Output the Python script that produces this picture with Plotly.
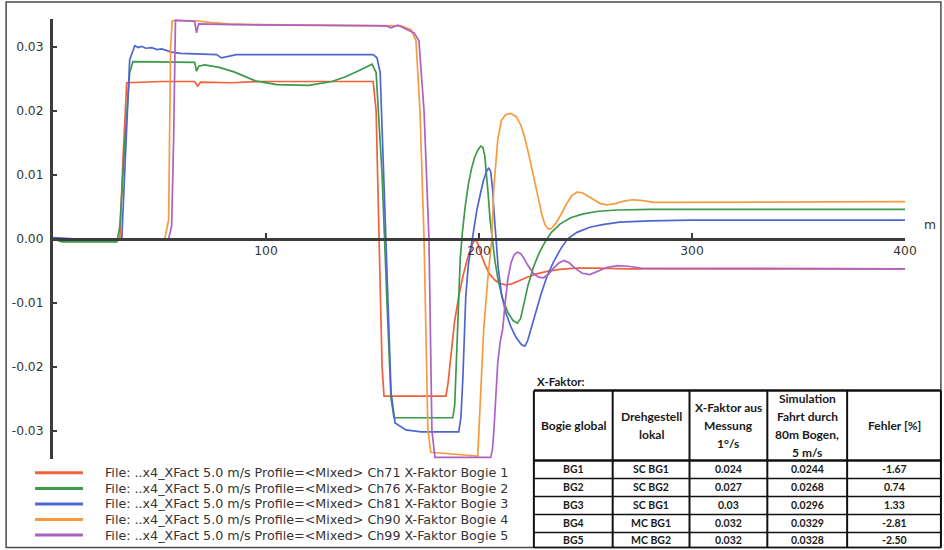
import plotly.graph_objects as go

# ---------------------------------------------------------------------------
# Series: distance along track [m] and X-Faktor value per bogie
# ---------------------------------------------------------------------------
bogie1_x = [0, 31.4, 32.8, 34.6, 51, 66.5, 67.9, 69.3, 83.8, 97.8, 150.3, 151.7, 153.1, 154.5,
            155.4, 184.5, 185.5, 186.8, 188.5, 190.5, 192.5, 194.5, 196.3, 197.8, 198.6, 199.5,
            201.0, 203.0, 205.0, 207.5, 210.0, 212.5, 215.0, 218.0, 222.0, 227.0, 232.0, 238.0,
            245.0, 255.0, 270.0, 400]
bogie1_y = [0, 0, 0.012, 0.0244, 0.0246, 0.0246, 0.0239, 0.0245, 0.0244, 0.0246, 0.0246, 0.020,
            0.0, -0.020, -0.0246, -0.0246, -0.0225, -0.018, -0.013, -0.0090, -0.0058, -0.0032,
            -0.0013, -0.0003, -0.0002, -0.0008, -0.0025, -0.0042, -0.0055, -0.0065, -0.0070,
            -0.0072, -0.0071, -0.0067, -0.0061, -0.0055, -0.0051, -0.0048, -0.0046, -0.0046,
            -0.0047, -0.0047]

bogie2_x = [0, 4.2, 30, 31.4, 33.7, 36, 37.5, 66.5, 67.4, 68.4, 71.2, 78, 85, 95, 105, 112, 120,
            131, 137, 143, 148, 149.8, 151.7, 154.5, 156.8, 158.7, 160.1, 187.7, 188.6, 189.5,
            190.3, 191.2, 192.2, 193.5, 195.0, 196.5, 198.0, 199.5, 200.8, 201.8, 202.7, 203.5,
            204.3, 205.2, 206.3, 207.5, 209.0, 211.0, 213.5, 216.0, 218.0, 219.5, 221.0, 223.0,
            225.5, 228.0, 231.0, 234.0, 238.0, 243.0, 249.0, 256.0, 265.0, 280.0, 400]
bogie2_y = [0, -0.0005, -0.0005, 0.002, 0.015, 0.026, 0.0277, 0.0276, 0.0262, 0.0270, 0.0272,
            0.0268, 0.0261, 0.0247, 0.0241, 0.0240, 0.0240, 0.0246, 0.0253, 0.0262, 0.0270,
            0.0273, 0.026, 0.010, -0.010, -0.025, -0.0280, -0.0280, -0.026, -0.018, -0.009,
            -0.003, 0.001, 0.005, 0.0085, 0.0110, 0.0128, 0.0139, 0.0145, 0.0143, 0.0130, 0.0105,
            0.0070, 0.0030, 0.0, -0.0035, -0.0065, -0.0093, -0.0115, -0.0128, -0.0132, -0.0125,
            -0.0103, -0.0073, -0.0045, -0.0024, -0.0005, 0.0010, 0.0023, 0.0033, 0.0039, 0.0043,
            0.0045, 0.0046, 0.0046]

bogie3_x = [0, 10, 32.3, 34.2, 36, 38.4, 40, 41.7, 43.5, 46.3, 49, 51, 55.7, 60, 69.8, 76.8,
            79.1, 81.9, 86.1, 150.3, 152.1, 153.6, 155.4, 157.3, 158.7, 160.6, 165.7, 172.8,
            190.5, 191.5, 192.4, 193.2, 193.8, 195.0, 196.2, 197.5, 199.0, 200.5, 202.0, 203.5,
            204.6, 205.5, 206.3, 207.1, 208.0, 209.0, 210.5, 212.5, 215.0, 217.5, 220.0, 221.5,
            222.8, 224.3, 226.5, 229.0, 232.0, 235.0, 238.5, 241.6, 246.0, 252.0, 258.0, 266.0,
            280.0, 300.0, 400]
bogie3_y = [0.0002, 0.0, 0.0, 0.015, 0.028, 0.0302, 0.0299, 0.0301, 0.0298, 0.0299, 0.0296,
            0.0297, 0.0292, 0.0290, 0.0289, 0.0288, 0.0283, 0.0285, 0.0288, 0.0288, 0.0283,
            0.026, 0.010, -0.010, -0.024, -0.0288, -0.0299, -0.0302, -0.0302, -0.028, -0.022,
            -0.014, -0.009, -0.004, -0.0012, 0.0018, 0.0045, 0.0068, 0.0090, 0.0105, 0.0111,
            0.0105, 0.0080, 0.0040, 0.0, -0.0045, -0.0085, -0.0115, -0.0138, -0.0155, -0.0166,
            -0.0168, -0.0160, -0.0142, -0.0115, -0.0088, -0.0058, -0.0036, -0.0015, 0.0, 0.0010,
            0.0018, 0.0022, 0.0026, 0.0028, 0.0029, 0.0029]

bogie4_x = [0, 52.5, 54.3, 55.2, 56.0, 67.4, 74.4, 82.4, 97.8, 156.4, 163.4, 168.1, 170.4,
            172.3, 174.2, 176.0, 177.4, 199.4, 200.8, 202.2, 204.1, 206.0, 206.9, 208.8, 210.5,
            212.5, 215.0, 217.5, 219.6, 221.5, 223.5, 225.5, 227.5, 229.5, 231.0, 232.5, 234.0,
            236.0, 238.5, 241.0, 243.5, 246.0, 248.5, 251.0, 254.0, 257.0, 260.0, 264.0, 268.0,
            272.0, 276.0, 282.0, 290.0, 400]
bogie4_y = [0, 0, 0.003, 0.030, 0.0341, 0.0341, 0.0338, 0.0336, 0.0335, 0.0334, 0.0333, 0.0327,
            0.031, 0.020, 0.0, -0.030, -0.0334, -0.0340, -0.0247, -0.0142, -0.0064, 0.0, 0.0077,
            0.0155, 0.0185, 0.0194, 0.0196, 0.0191, 0.0178, 0.0158, 0.0130, 0.0098, 0.0065,
            0.0038, 0.0022, 0.0015, 0.0016, 0.0024, 0.0038, 0.0054, 0.0067, 0.0073, 0.0072,
            0.0067, 0.0060, 0.0055, 0.0053, 0.0055, 0.0059, 0.0061, 0.0060, 0.0057, 0.0057,
            0.0058]

bogie5_x = [0, 54.3, 55.7, 56.6, 57.5, 66.5, 67.4, 68.4, 83.8, 156.4, 158.7, 162.0, 169.5,
            171.8, 174.2, 176.5, 177.9, 179.3, 205.5, 206.3, 207.0, 207.8, 208.8, 210.0, 211.1,
            212.3, 213.5, 215.0, 216.5, 218.0, 219.5, 221.0, 223.0, 225.5, 228.0, 230.3, 232.5,
            235.0, 237.5, 240.0, 242.5, 245.0, 248.5, 252.0, 256.0, 260.0, 265.0, 270.0, 276.0,
            400]
bogie5_y = [0, 0, 0.002, 0.015, 0.0342, 0.0340, 0.0322, 0.0336, 0.0335, 0.0333, 0.0330, 0.0334,
            0.0322, 0.031, 0.020, 0.0, -0.030, -0.0342, -0.0342, -0.033, -0.030, -0.025, -0.0194,
            -0.0160, -0.0142, -0.0100, -0.0064, -0.0038, -0.0025, -0.0021, -0.0023, -0.0030,
            -0.0042, -0.0054, -0.0060, -0.0061, -0.0056, -0.0046, -0.0038, -0.0034, -0.0038,
            -0.0046, -0.0054, -0.0056, -0.0051, -0.0045, -0.0042, -0.0043, -0.0046, -0.0047]

series_names = [
    "File: ..x4_XFact 5.0 m/s Profile=&lt;Mixed&gt; Ch71 X-Faktor Bogie 1",
    "File: ..x4_XFact 5.0 m/s Profile=&lt;Mixed&gt; Ch76 X-Faktor Bogie 2",
    "File: ..x4_XFact 5.0 m/s Profile=&lt;Mixed&gt; Ch81 X-Faktor Bogie 3",
    "File: ..x4_XFact 5.0 m/s Profile=&lt;Mixed&gt; Ch90 X-Faktor Bogie 4",
    "File: ..x4_XFact 5.0 m/s Profile=&lt;Mixed&gt; Ch99 X-Faktor Bogie 5",
]
series_colors = ["#f2603c", "#3d9a4b", "#4f66d2", "#f89a40", "#ab62c6"]

x_tick_vals = [100, 200, 300, 400]
x_tick_text = ["100", "200", "300", "400"]
y_tick_vals = [0.03, 0.02, 0.01, 0.0, -0.01, -0.02, -0.03]
y_tick_text = ["0.03", "0.02", "0.01", "0.00", "-0.01", "-0.02", "-0.03"]

# ---------------------------------------------------------------------------
# Summary table
# ---------------------------------------------------------------------------
table_title = "X-Faktor:"
table_header = [
    ["Bogie global"],
    ["Drehgestell", "lokal"],
    ["X-Faktor aus", "Messung", "1°/s"],
    ["Simulation", "Fahrt durch", "80m Bogen,", "5 m/s"],
    ["Fehler [%]"],
]
col_bogie = ["BG1", "BG2", "BG3", "BG4", "BG5"]
col_local = ["SC BG1", "SC BG2", "SC BG1", "MC BG1", "MC BG2"]
col_measured = ["0.024", "0.027", "0.03", "0.032", "0.032"]
col_simulated = ["0.0244", "0.0268", "0.0296", "0.0329", "0.0328"]
col_error = ["-1.67", "0.74", "1.33", "-2.81", "-2.50"]

# ---------------------------------------------------------------------------
# Page geometry (pixels) -> paper coordinates
# ---------------------------------------------------------------------------
W, H = 944, 550
PL, PR, PT, PB = 51, 905, 19, 459.5        # plot area edges in px
Y_MIN, Y_MAX = -0.03445, 0.034375


def px(xp):
    return (xp - PL) / (PR - PL)


def py(yp):
    return (PB - yp) / (PB - PT)


fig = go.Figure()

all_x = [bogie1_x, bogie2_x, bogie3_x, bogie4_x, bogie5_x]
all_y = [bogie1_y, bogie2_y, bogie3_y, bogie4_y, bogie5_y]
for xs, ys, name, col in zip(all_x, all_y, series_names, series_colors):
    fig.add_trace(go.Scatter(x=xs, y=ys, mode="lines", name=name,
                             line=dict(color=col, width=1.7),
                             showlegend=False))

axis_col = "#3c3c3c"
label_family = "DejaVu Sans, Verdana, sans-serif"
tick_font = dict(family=label_family, size=12.3, color="#333333")

fig.update_layout(
    width=W, height=H,
    margin=dict(l=PL, r=W - PR, t=PT, b=H - PB, pad=0),
    paper_bgcolor="white", plot_bgcolor="white",
    xaxis=dict(range=[0, 400], showgrid=False, zeroline=False,
               showline=True, linecolor=axis_col, linewidth=2.5,
               anchor="free", position=(0 - Y_MIN) / (Y_MAX - Y_MIN),
               ticks="inside", ticklen=5, tickwidth=1.5, tickcolor=axis_col,
               tickvals=x_tick_vals, ticktext=x_tick_text, tickfont=tick_font),
    yaxis=dict(range=[Y_MIN, Y_MAX], showgrid=False, zeroline=False,
               showline=True, linecolor=axis_col, linewidth=3,
               ticks="inside", ticklen=4, tickwidth=1.5, tickcolor=axis_col,
               tickvals=y_tick_vals, ticktext=y_tick_text, tickfont=tick_font,
               ticklabelstandoff=4),
    showlegend=False,
)

shapes = []
annotations = []

# outer frame
shapes.append(dict(type="rect", xref="paper", yref="paper",
                   x0=px(4), x1=px(941), y0=py(2), y1=py(548),
                   line=dict(color="#4a4a4a", width=1.5), fillcolor="rgba(0,0,0,0)"))

# axis unit
annotations.append(dict(xref="paper", yref="paper", x=px(930), y=py(225), text="m",
                        showarrow=False, font=tick_font, xanchor="center", yanchor="middle"))

# legend drawn as line samples and labels
legend_rows = [473.3, 489, 504.5, 520, 535.7]
for yrow, name, col in zip(legend_rows, series_names, series_colors):
    shapes.append(dict(type="line", xref="paper", yref="paper",
                       x0=px(33), x1=px(81), y0=py(yrow), y1=py(yrow),
                       line=dict(color=col, width=3)))
    annotations.append(dict(xref="paper", yref="paper", x=px(101), y=py(yrow), text=name,
                            showarrow=False, xanchor="left", yanchor="middle",
                            font=dict(family=label_family, size=12.7, color="#333333")))

# table
col_edges = [533, 612, 689, 767, 847, 941]
row_edges = [391, 461, 479, 497, 515, 533, 548]
head_font = dict(family="Lato, sans-serif", size=12, color="#1a1a1a", weight="bold")
cell_font = dict(family="Lato, sans-serif", size=10.5, color="#1a1a1a", weight="bold")

annotations.append(dict(xref="paper", yref="paper", x=px(534), y=py(382), text=table_title,
                        showarrow=False, xanchor="left", yanchor="middle",
                        font=dict(family="Lato, sans-serif", size=11.5, color="#1a1a1a",
                                  weight="bold")))

for xe in col_edges:
    shapes.append(dict(type="line", xref="paper", yref="paper", x0=px(xe), x1=px(xe),
                       y0=py(row_edges[0]), y1=py(row_edges[-1]),
                       line=dict(color="#111111", width=2)))
for i, ye in enumerate(row_edges):
    shapes.append(dict(type="line", xref="paper", yref="paper", x0=px(col_edges[0]),
                       x1=px(col_edges[-1]), y0=py(ye), y1=py(ye),
                       line=dict(color="#111111", width=2.5 if i in (0, 1) else 1.5)))

line_step = 18
for c, lines in enumerate(table_header):
    xc = (col_edges[c] + col_edges[c + 1]) / 2
    yc = (row_edges[0] + row_edges[1]) / 2
    y0 = yc - (len(lines) - 1) * line_step / 2
    for k, t in enumerate(lines):
        annotations.append(dict(xref="paper", yref="paper", x=px(xc), y=py(y0 + k * line_step),
                                text=t, showarrow=False, xanchor="center", yanchor="middle",
                                font=head_font))

columns = [col_bogie, col_local, col_measured, col_simulated, col_error]
for c, vals in enumerate(columns):
    xc = (col_edges[c] + col_edges[c + 1]) / 2
    for r, v in enumerate(vals):
        yc = (row_edges[r + 1] + row_edges[r + 2]) / 2
        annotations.append(dict(xref="paper", yref="paper", x=px(xc), y=py(yc), text=v,
                                showarrow=False, xanchor="center", yanchor="middle",
                                font=cell_font))

fig.update_layout(shapes=shapes, annotations=annotations)
fig.write_html("out.html")
